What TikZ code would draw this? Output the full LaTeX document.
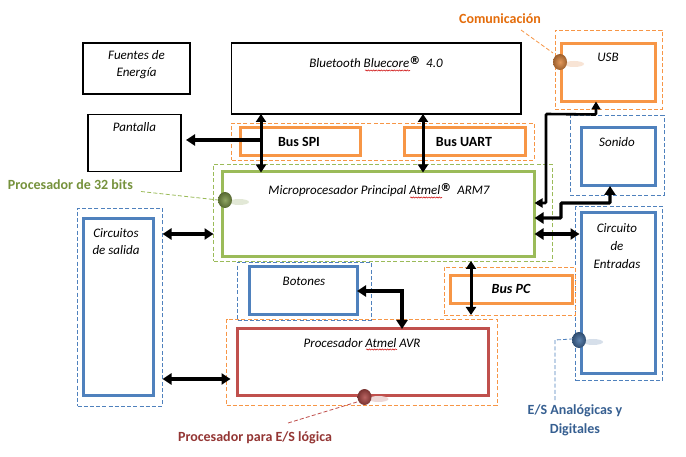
\documentclass[tikz,border=0pt]{standalone}
\usepackage{fontspec}
\setmainfont{Carlito}
\newfontfamily\regfont{DejaVu Sans}
\usetikzlibrary{arrows.meta,shadings,decorations.pathmorphing}
\definecolor{cOrange}{HTML}{F79646}
\definecolor{cBlue}{HTML}{4F81BD}
\definecolor{cGreen}{HTML}{9BBB59}
\definecolor{cRed}{HTML}{C0504D}
\definecolor{tOrange}{HTML}{E46C0A}
\definecolor{tGreen}{HTML}{76923C}
\definecolor{tBlue}{HTML}{365F91}
\definecolor{tRed}{HTML}{943634}
\tikzset{
  x=1pt,y=-1pt,
  anyshape/.style={rectangle,inner sep=0pt,outer sep=0pt,anchor=north west},
  plainbox/.style={anyshape,draw=black,line width=1.1pt},
  orangebox/.style={anyshape,draw=cOrange,line width=3pt},
  bluebox/.style={anyshape,draw=cBlue,line width=3pt},
  greenbox/.style={anyshape,draw=cGreen,line width=3pt},
  redbox/.style={anyshape,draw=cRed,line width=3pt},
  groupbox/.style={anyshape,line width=0.8pt,dash pattern=on 4pt off 2.2pt},
  leader/.style={line width=0.8pt,dash pattern=on 4pt off 2.2pt},
  txt/.style={inner sep=0pt,outer sep=0pt,align=center,font=\fontsize{13}{17}\selectfont\itshape},
  bustxt/.style={inner sep=0pt,outer sep=0pt,font=\fontsize{14}{17}\selectfont\bfseries},
  callout/.style={inner sep=0pt,outer sep=0pt,align=center,font=\fontsize{14}{19}\selectfont\bfseries},
  bigarrow/.style={line width=3.2pt,{Triangle[length=9pt,width=11pt]}-{Triangle[length=9pt,width=11pt]}},
  onearrow/.style={line width=3.2pt,-{Triangle[length=9pt,width=11pt]}},
  midarrow/.style={line width=3pt,{Triangle[length=8pt,width=10pt]}-{Triangle[length=8pt,width=10pt]}},
  wavy/.style={draw=red!80!black,line width=0.5pt,decorate,decoration={snake,amplitude=0.6pt,segment length=2.6pt}},
}
\newcommand{\bead}[4]{% x,y,colour,name
  \fill[#3!22] (#1+14,#2+2) ellipse [x radius=10pt,y radius=3pt];
  \shade[shading=radial,inner color=#3!85!white,outer color=#3!70!black] (#1,#2) ellipse [x radius=7pt,y radius=8pt];
  \coordinate (#4) at (#1,#2);
}
\newcommand{\regmark}{\raisebox{3.5pt}{\regfont\fontsize{11}{11}\selectfont\bfseries\itshape ®}}
\begin{document}
\begin{tikzpicture}
\useasboundingbox (0,0) rectangle (686,457);
\fill[white] (0,0) rectangle (686,457);
% dashed groups
\node[groupbox,draw=cOrange,minimum width=302.5pt,minimum height=37pt] (gSpi) at (231.5,123) {};
\node[groupbox,draw=cGreen,minimum width=338.5pt,minimum height=96.5pt] (gArm) at (213.5,164.5) {};
\node[groupbox,draw=cOrange,minimum width=107pt,minimum height=79pt] (gUsb) at (555,30) {};
\node[groupbox,draw=cBlue,minimum width=94pt,minimum height=80pt] (gSon) at (570,115.5) {};
\node[groupbox,draw=cBlue,minimum width=87pt,minimum height=174pt] (gEnt) at (575.5,206.5) {};
\node[groupbox,draw=cBlue,minimum width=85pt,minimum height=198pt] (gSal) at (77.5,208) {};
\node[groupbox,draw=cBlue,minimum width=133.5pt,minimum height=58pt] (gBot) at (237.5,262) {};
\node[groupbox,draw=cOrange,minimum width=270.5pt,minimum height=85.5pt] (gAvr) at (226.5,319.5) {};
\node[groupbox,draw=cOrange,minimum width=131pt,minimum height=48pt] (gPc) at (444,267) {};
% boxes
\node[plainbox,minimum width=107pt,minimum height=51pt] (fuentes) at (83,43) {};
\node[plainbox,minimum width=289.5pt,minimum height=71pt] (bluetooth) at (231.5,43) {};
\node[plainbox,minimum width=93pt,minimum height=57pt] (pantalla) at (88,114.5) {};
\node[orangebox,minimum width=120pt,minimum height=28pt] (spi) at (240,128) {};
\node[orangebox,minimum width=121pt,minimum height=28pt] (uart) at (404.5,128) {};
\node[greenbox,minimum width=312pt,minimum height=85pt] (arm) at (222.5,171.5) {};
\node[orangebox,minimum width=94pt,minimum height=58pt] (usb) at (561,43.5) {};
\node[bluebox,minimum width=74pt,minimum height=58pt] (sonido) at (581,128) {};
\node[bluebox,minimum width=74pt,minimum height=161pt] (entradas) at (581,212.5) {};
\node[bluebox,minimum width=70pt,minimum height=176pt] (salida) at (83,219) {};
\node[bluebox,minimum width=108pt,minimum height=48pt] (botones) at (249,267) {};
\node[redbox,minimum width=251pt,minimum height=66pt] (avr) at (237.5,329) {};
\node[orangebox,minimum width=122pt,minimum height=28pt] (pc) at (450,276) {};
% texts
\node[txt] (tFuentes) at (136.5,65) {Fuentes de\\Energía};
\node[txt] (tBt) at (376,62) {Bluetooth Bluecore\regmark\ \ 4.0};
\node[txt] (tPant) at (134.5,127) {Pantalla};
\node[bustxt] (tSpi) at (299,142) {Bus SPI};
\node[bustxt] (tUart) at (464,142) {Bus UART};
\node[txt] (tArm) at (379,190) {Microprocesador Principal Atmel\regmark\ \ ARM7};
\node[txt] (tUsb) at (608,57) {USB};
\node[txt] (tSon) at (617,142) {Sonido};
\node[txt,align=center] (tEnt) at (617,246) {Circuito\\[0.6pt]de\\[0.6pt]Entradas};
\node[txt,align=center] (tSal) at (116,241.5) {Circuitos\\de salida};
\node[txt] (tBot) at (304,281) {Botones};
\node[txt] (tAvr) at (362,343) {Procesador Atmel AVR};
\node[bustxt,font=\fontsize{14}{17}\selectfont\bfseries\itshape] (tPc) at (511,289) {Bus PC};
% spell-check underlines
\path[wavy] (365,70.5) -- (410,70.5);
\path[wavy] (410,197.5) -- (442,197.5);
\path[wavy] (366,349.5) -- (397,349.5);
% call-out labels
\node[callout,text=tGreen,anchor=west] (l32) at (8,185) {Procesador de 32 bits};
\node[callout,text=tOrange] (lCom) at (500,19) {Comunicación};
\node[callout,text=tBlue] (lEs) at (575,420.5) {E/S Analógicas y\\Digitales};
\node[callout,text=tRed] (lAvr) at (255,438) {Procesador para E/S lógica};
% helper points
\coordinate (xSpi) at (261,0);
\coordinate (xUart) at (423,0);
\coordinate (xPc) at (471,0);
\coordinate (yTop) at (0,234);
\coordinate (yLow) at (0,379);
\coordinate (panIn) at (186,140);
\coordinate (usbIn) at (596,101);
\coordinate (sonIn) at (610,186);
% connectors
\draw[midarrow] (bluetooth.south -| xSpi) -- ([yshift=-1pt]arm.north -| xSpi);
\draw[onearrow] (xSpi |- panIn) -- (panIn);
\draw[midarrow] (bluetooth.south -| xUart) -- ([yshift=-1pt]arm.north -| xUart);
\draw[bigarrow] (gSal.east |- yTop) -- (gArm.west |- yTop);
\draw[bigarrow] (gSal.east |- yLow) -- ([xshift=4pt]gAvr.west |- yLow);
\draw[bigarrow] (arm.east |- yTop) -- ([xshift=4pt]gEnt.west |- yTop);
\draw[midarrow] (gArm.south -| xPc) -- (gPc.south -| xPc);
\draw[line width=2.6pt,{Triangle[length=8pt,width=9pt]}-{Triangle[length=8pt,width=9pt]},rounded corners=1pt]
  (usb.south -| usbIn) -- ++(0,13) -- (546,114) -- (546,203) -- (arm.east |- 0,203);
\draw[bigarrow,rounded corners=1pt] (sonIn) -- ++(0,17) -- (561,203) -- (561,218) -- (arm.east |- 0,218);
\draw[bigarrow] (botones.east |- 0,291) -- (402,291) -- (avr.north -| 402,0);
% beads and leaders
\draw[leader,draw=cGreen] (141,191.5) -- (218,200);
\draw[leader,draw=cOrange] (521,30) -- (553,53);
\draw[leader,draw=cBlue] (555,400) -- (555,340) -- (572,339);
\draw[leader,draw=cRed] (288,423) -- (357,402);
\bead{225}{200}{cGreen!80!black}{bGreen}
\bead{560}{62}{cOrange!90!black}{bOrange}
\bead{579}{340}{cBlue!85!black}{bBlue}
\bead{364.5}{397}{cRed!90!black}{bRed}
\end{tikzpicture}
\end{document}
